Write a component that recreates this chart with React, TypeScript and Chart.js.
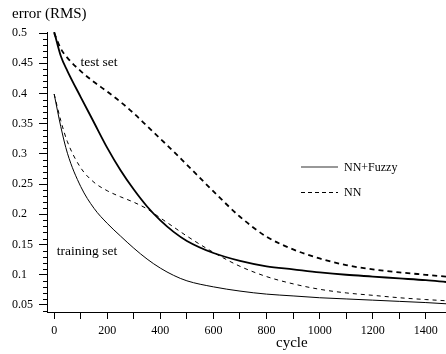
import React, { useEffect, useRef } from 'react';
import { Chart, registerables } from 'chart.js';

Chart.register(...registerables);

// ---- data ----
const cycles = [0, 25, 50, 100, 150, 200, 250, 300, 350, 400, 450, 500, 600, 700, 800, 900, 1000, 1100, 1200, 1300, 1400, 1476];
const fuzzyTest = [0.502, 0.462, 0.437, 0.394, 0.352, 0.31, 0.273, 0.241, 0.213, 0.19, 0.171, 0.156, 0.136, 0.123, 0.114, 0.109, 0.104, 0.1, 0.097, 0.094, 0.091, 0.088];
const nnTest = [0.5, 0.474, 0.459, 0.437, 0.419, 0.403, 0.386, 0.367, 0.346, 0.325, 0.304, 0.282, 0.238, 0.196, 0.163, 0.142, 0.127, 0.116, 0.109, 0.104, 0.1, 0.097];
const fuzzyTrain = [0.399, 0.345, 0.301, 0.246, 0.21, 0.185, 0.164, 0.144, 0.126, 0.111, 0.099, 0.09, 0.08, 0.073, 0.068, 0.065, 0.062, 0.06, 0.058, 0.056, 0.054, 0.052];
const nnTrain = [0.399, 0.355, 0.32, 0.277, 0.253, 0.239, 0.229, 0.22, 0.209, 0.194, 0.179, 0.164, 0.137, 0.114, 0.097, 0.085, 0.076, 0.07, 0.066, 0.062, 0.059, 0.057];

const xTickValues = [0, 100, 200, 300, 400, 500, 600, 700, 800, 900, 1000, 1100, 1200, 1300, 1400];
const xLabelStep = 200;
const yTickValues = [0.05, 0.1, 0.15, 0.2, 0.25, 0.3, 0.35, 0.4, 0.45, 0.5];
const yMinorTickValues = [
  0.04, 0.06, 0.07, 0.08, 0.09, 0.11, 0.12, 0.13, 0.14, 0.16, 0.17, 0.18, 0.19,
  0.21, 0.22, 0.23, 0.24, 0.26, 0.27, 0.28, 0.29, 0.31, 0.32, 0.33, 0.34,
  0.36, 0.37, 0.38, 0.39, 0.41, 0.42, 0.43, 0.44, 0.46, 0.47, 0.48, 0.49,
];
const legendLabels = ['NN+Fuzzy', 'NN'];
const curveLabels = ['test set', 'training set'];
const yTitle = 'error (RMS)';
const xTitle = 'cycle';

const FONT = "'Liberation Serif', 'Times New Roman', serif";

const toPoints = (ys: number[]) => cycles.map((c, i) => ({ x: c, y: ys[i] }));

const overlayPlugin = {
  id: 'overlay',
  afterDraw(chart: any) {
    const { ctx, chartArea } = chart;
    const xs = chart.scales.x;
    const ys = chart.scales.y;
    ctx.save();
    // minor y ticks
    ctx.strokeStyle = '#000';
    ctx.lineWidth = 1;
    ctx.setLineDash([]);
    for (const v of yMinorTickValues) {
      if (v < ys.min || v > ys.max) continue;
      const py = Math.round(ys.getPixelForValue(v)) + 0.5;
      ctx.beginPath();
      ctx.moveTo(chartArea.left - 4, py);
      ctx.lineTo(chartArea.left, py);
      ctx.stroke();
    }
    ctx.fillStyle = '#000';
    ctx.textBaseline = 'alphabetic';
    ctx.textAlign = 'left';
    // axis titles
    ctx.font = `15px ${FONT}`;
    ctx.fillText(yTitle, 12, 17.5);
    ctx.fillText(xTitle, 276, 347);
    // curve annotations
    ctx.font = `13.5px ${FONT}`;
    ctx.fillText(curveLabels[0], xs.getPixelForValue(99), ys.getPixelForValue(0.4448));
    ctx.fillText(curveLabels[1], xs.getPixelForValue(10), ys.getPixelForValue(0.133));
    // legend
    const lx0 = 301, lx1 = 338, tx = 344;
    const rows = [167, 192];
    ctx.font = `12px ${FONT}`;
    ctx.textBaseline = 'middle';
    rows.forEach((ry, i) => {
      ctx.beginPath();
      ctx.strokeStyle = i === 0 ? '#333' : '#000';
      ctx.lineWidth = i === 0 ? 1.2 : 1;
      ctx.setLineDash(i === 0 ? [] : [4, 3]);
      ctx.moveTo(lx0, i === 0 ? ry : ry + 0.5);
      ctx.lineTo(lx1, i === 0 ? ry : ry + 0.5);
      ctx.stroke();
      ctx.setLineDash([]);
      ctx.fillText(legendLabels[i], tx, ry + 0.5);
    });
    ctx.restore();
  },
};

export default function App() {
  const ref = useRef<HTMLCanvasElement | null>(null);
  useEffect(() => {
    if (!ref.current) return;
    const common = {
      pointRadius: 0,
      pointHoverRadius: 0,
      fill: false,
      borderColor: '#000',
      backgroundColor: '#000',
      cubicInterpolationMode: 'monotone' as const,
    };
    const chart = new Chart(ref.current, {
      type: 'line',
      data: {
        datasets: [
          { ...common, label: 'NN+Fuzzy test', data: toPoints(fuzzyTest), borderWidth: 1.8 },
          { ...common, label: 'NN test', data: toPoints(nnTest), borderWidth: 1.8, borderDash: [5, 4] },
          { ...common, label: 'NN+Fuzzy training', data: toPoints(fuzzyTrain), borderWidth: 1 },
          { ...common, label: 'NN training', data: toPoints(nnTrain), borderWidth: 1, borderDash: [4, 4] },
        ],
      },
      options: {
        animation: false,
        responsive: false,
        devicePixelRatio: 1,
        layout: { padding: { top: 32, left: 12, right: 0, bottom: 0 } },
        plugins: { legend: { display: false }, tooltip: { enabled: false }, title: { display: false } },
        scales: {
          x: {
            type: 'linear',
            min: -27,
            max: 1476,
            afterBuildTicks: (s: any) => {
              s.ticks = xTickValues.map((v) => ({ value: v }));
            },
            afterFit: (s: any) => {
              s.height = 42;
            },
            ticks: {
              autoSkip: false,
              maxRotation: 0,
              minRotation: 0,
              padding: 5,
              color: '#000',
              font: { family: FONT, size: 12 },
              callback: (v: any) => (Number(v) % xLabelStep === 0 ? String(v) : ''),
            },
            grid: { display: true, drawOnChartArea: false, drawTicks: true, tickLength: 7, tickColor: '#000', tickWidth: 1 },
            border: { display: true, color: '#000', width: 1 },
          },
          y: {
            type: 'linear',
            min: 0.0384,
            max: 0.5017,
            afterBuildTicks: (s: any) => {
              s.ticks = yTickValues.map((v) => ({ value: v }));
            },
            afterFit: (s: any) => {
              s.width = 35;
            },
            ticks: {
              autoSkip: false,
              crossAlign: 'far',
              color: '#000',
              font: { family: FONT, size: 12 },
              callback: (v: any) => String(Number(Number(v).toFixed(2))),
            },
            grid: { display: true, drawOnChartArea: false, drawTicks: true, tickLength: 8, tickColor: '#000', tickWidth: 1 },
            border: { display: true, color: '#000', width: 1 },
          },
        },
      },
      plugins: [overlayPlugin],
    });
    return () => chart.destroy();
  }, []);
  return (
    <div style={{ position: 'fixed', left: 0, top: 0, width: 446, height: 354, background: '#fff' }}>
      <canvas ref={ref} width={446} height={354} />
    </div>
  );
}
